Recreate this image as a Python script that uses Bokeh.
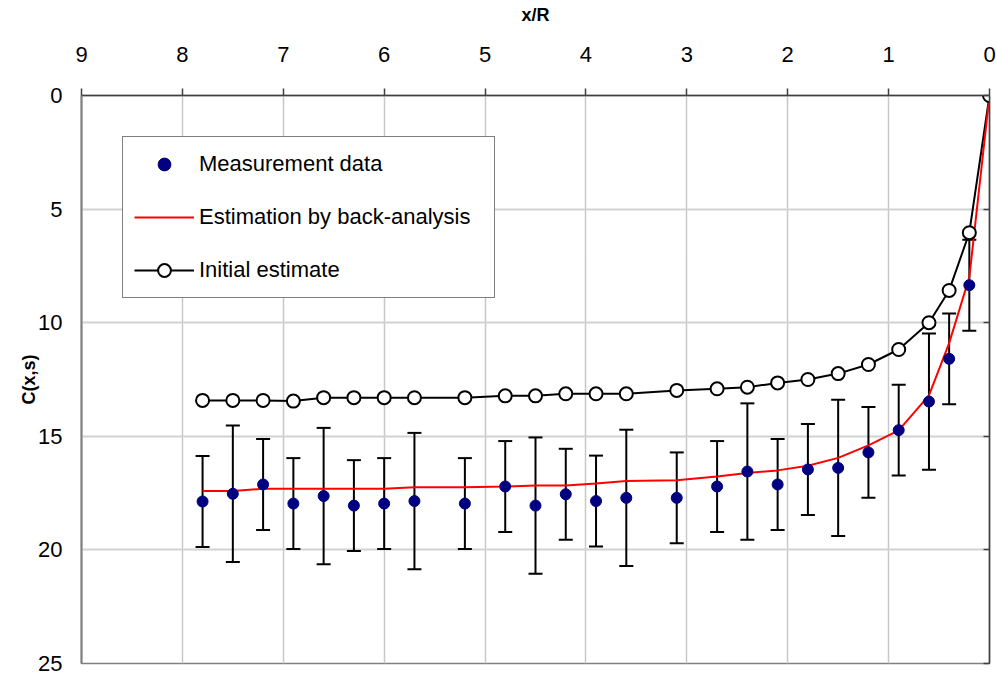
from bokeh.plotting import figure
from bokeh.models import (Range1d, LinearAxis, FixedTicker, Whisker, TeeHead,
                          ColumnDataSource, Legend, LegendItem)
from bokeh.embed import file_html
from bokeh.resources import INLINE

# ---- data ----
x_meas = [7.8, 7.5, 7.2, 6.9, 6.6, 6.3, 6.0, 5.7, 5.2, 4.8, 4.5, 4.2, 3.9,
          3.6, 3.1, 2.7, 2.4, 2.1, 1.8, 1.5, 1.2, 0.9, 0.6, 0.4, 0.2]
c_meas = [17.87, 17.53, 17.12, 17.96, 17.63, 18.05, 17.96, 17.85, 17.96,
          17.21, 18.05, 17.55, 17.85, 17.71, 17.71, 17.21, 16.55, 17.12,
          16.46, 16.39, 15.71, 14.73, 13.47, 11.59, 8.35]
err_meas = [2, 3, 2, 2, 3, 2, 2, 3, 2, 2, 3, 2, 2, 3, 2, 2, 3, 2, 2, 3, 2,
            2, 3, 2, 2]

x_init = [7.8, 7.5, 7.2, 6.9, 6.6, 6.3, 6.0, 5.7, 5.2, 4.8, 4.5, 4.2, 3.9,
          3.6, 3.1, 2.7, 2.4, 2.1, 1.8, 1.5, 1.2, 0.9, 0.6, 0.4, 0.2, 0.0]
c_init = [13.42, 13.42, 13.42, 13.45, 13.3, 13.3, 13.3, 13.3, 13.3, 13.22,
          13.22, 13.13, 13.13, 13.13, 12.98, 12.91, 12.84, 12.65, 12.5,
          12.24, 11.84, 11.18, 10.0, 8.58, 6.04, 0.0]

x_back = [7.8, 7.5, 7.2, 6.9, 6.6, 6.3, 6.0, 5.7, 5.2, 4.8, 4.5, 4.2, 3.9,
          3.6, 3.1, 2.7, 2.4, 2.1, 1.8, 1.5, 1.2, 0.9, 0.6, 0.4, 0.2, 0.0]
c_back = [17.41, 17.41, 17.31, 17.31, 17.31, 17.31, 17.31, 17.24, 17.24,
          17.21, 17.17, 17.17, 17.08, 16.97, 16.93, 16.77, 16.62, 16.5, 16.3,
          15.95, 15.4, 14.74, 13.2, 10.9, 8.0, 0.0]

x_ticks = [0, 1, 2, 3, 4, 5, 6, 7, 8, 9]
y_ticks = [0, 5, 10, 15, 20, 25]

FONT = "Liberation Sans"

p = figure(width=996, height=675, x_range=Range1d(9, 0), y_range=Range1d(25, 0),
           x_axis_location="above", output_backend="svg", toolbar_location=None,
           min_border_left=81, min_border_right=7, min_border_top=95,
           min_border_bottom=12)
p.outline_line_color = "#808080"
p.outline_line_width = 1.5
p.background_fill_color = "white"

# top x axis
xa = p.xaxis[0]
xa.ticker = FixedTicker(ticks=x_ticks)
xa.axis_label = "x/R"
xa.axis_label_text_font = FONT
xa.axis_label_text_font_style = "bold"
xa.axis_label_text_font_size = "18px"
xa.axis_label_text_color = "black"
xa.axis_label_standoff = 19
xa.major_label_text_font = FONT
xa.major_label_text_font_size = "22px"
xa.major_label_text_color = "black"
xa.major_label_standoff = 27
xa.major_tick_out = 7
xa.major_tick_in = 0
xa.minor_tick_out = 0
xa.minor_tick_in = 0
xa.axis_line_color = "#404040"
xa.axis_line_width = 1.5
xa.major_tick_line_color = "#404040"
xa.major_tick_line_width = 1.5

# left y axis
ya = p.yaxis[0]
ya.ticker = FixedTicker(ticks=y_ticks)
ya.axis_label = "C(x,s)"
ya.axis_label_text_font = FONT
ya.axis_label_text_font_style = "bold"
ya.axis_label_text_font_size = "18px"
ya.axis_label_text_color = "black"
ya.axis_label_standoff = -4
ya.major_label_text_font = FONT
ya.major_label_text_font_size = "22px"
ya.major_label_text_color = "black"
ya.major_label_standoff = 19
ya.major_tick_out = 0
ya.major_tick_in = 0
ya.minor_tick_out = 0
ya.minor_tick_in = 0
ya.axis_line_color = "#808080"
ya.axis_line_width = 2

# right axis (ticks only)
ra = LinearAxis(ticker=FixedTicker(ticks=y_ticks),
                major_label_overrides={t: "" for t in y_ticks},
                major_label_standoff=0, major_tick_in=6, major_tick_out=0,
                minor_tick_in=0, minor_tick_out=0,
                axis_line_color="#404040", axis_line_width=1.5,
                major_tick_line_color="#404040", major_tick_line_width=1.5)
p.add_layout(ra, "right")

p.xgrid.ticker = FixedTicker(ticks=x_ticks)
p.xgrid.grid_line_color = "#c8c8c8"
p.xgrid.grid_line_width = 1.5
p.ygrid.ticker = FixedTicker(ticks=y_ticks)
p.ygrid.grid_line_color = "#d2d2d2"
p.ygrid.grid_line_width = 2

# error bars
src = ColumnDataSource(dict(x=x_meas, c=c_meas,
                            upper=[c - e for c, e in zip(c_meas, err_meas)],
                            lower=[c + e for c, e in zip(c_meas, err_meas)]))
wh = Whisker(source=src, base="x", upper="upper", lower="lower",
             dimension="height", line_color="black", line_width=2,
             upper_head=TeeHead(size=14, line_color="black", line_width=2),
             lower_head=TeeHead(size=14, line_color="black", line_width=2))
p.add_layout(wh)

init_line = p.line(x_init, c_init, line_color="black", line_width=2)
back_line = p.line(x_back, c_back, line_color="red", line_width=2)
init_pts = p.scatter(x_init, c_init, marker="circle", size=13,
                     fill_color="white", line_color="black", line_width=2)
meas_pts = p.scatter("x", "c", source=src, marker="circle", size=11,
                     fill_color="#000080", line_color="#000080")

legend = Legend(items=[
    LegendItem(label="Measurement data", renderers=[meas_pts]),
    LegendItem(label="Estimation by back-analysis", renderers=[back_line]),
    LegendItem(label="Initial estimate", renderers=[init_line, init_pts]),
], location=(41, 365), margin=0, padding=11, spacing=21, label_standoff=5,
   glyph_width=60, glyph_height=32, label_height=20, label_width=284,
   label_text_font=FONT, label_text_font_size="22px",
   label_text_color="black", border_line_color="black", border_line_width=1.5,
   background_fill_color="white", background_fill_alpha=1.0)
p.add_layout(legend)

open("out.html", "w").write(file_html(p, INLINE))
